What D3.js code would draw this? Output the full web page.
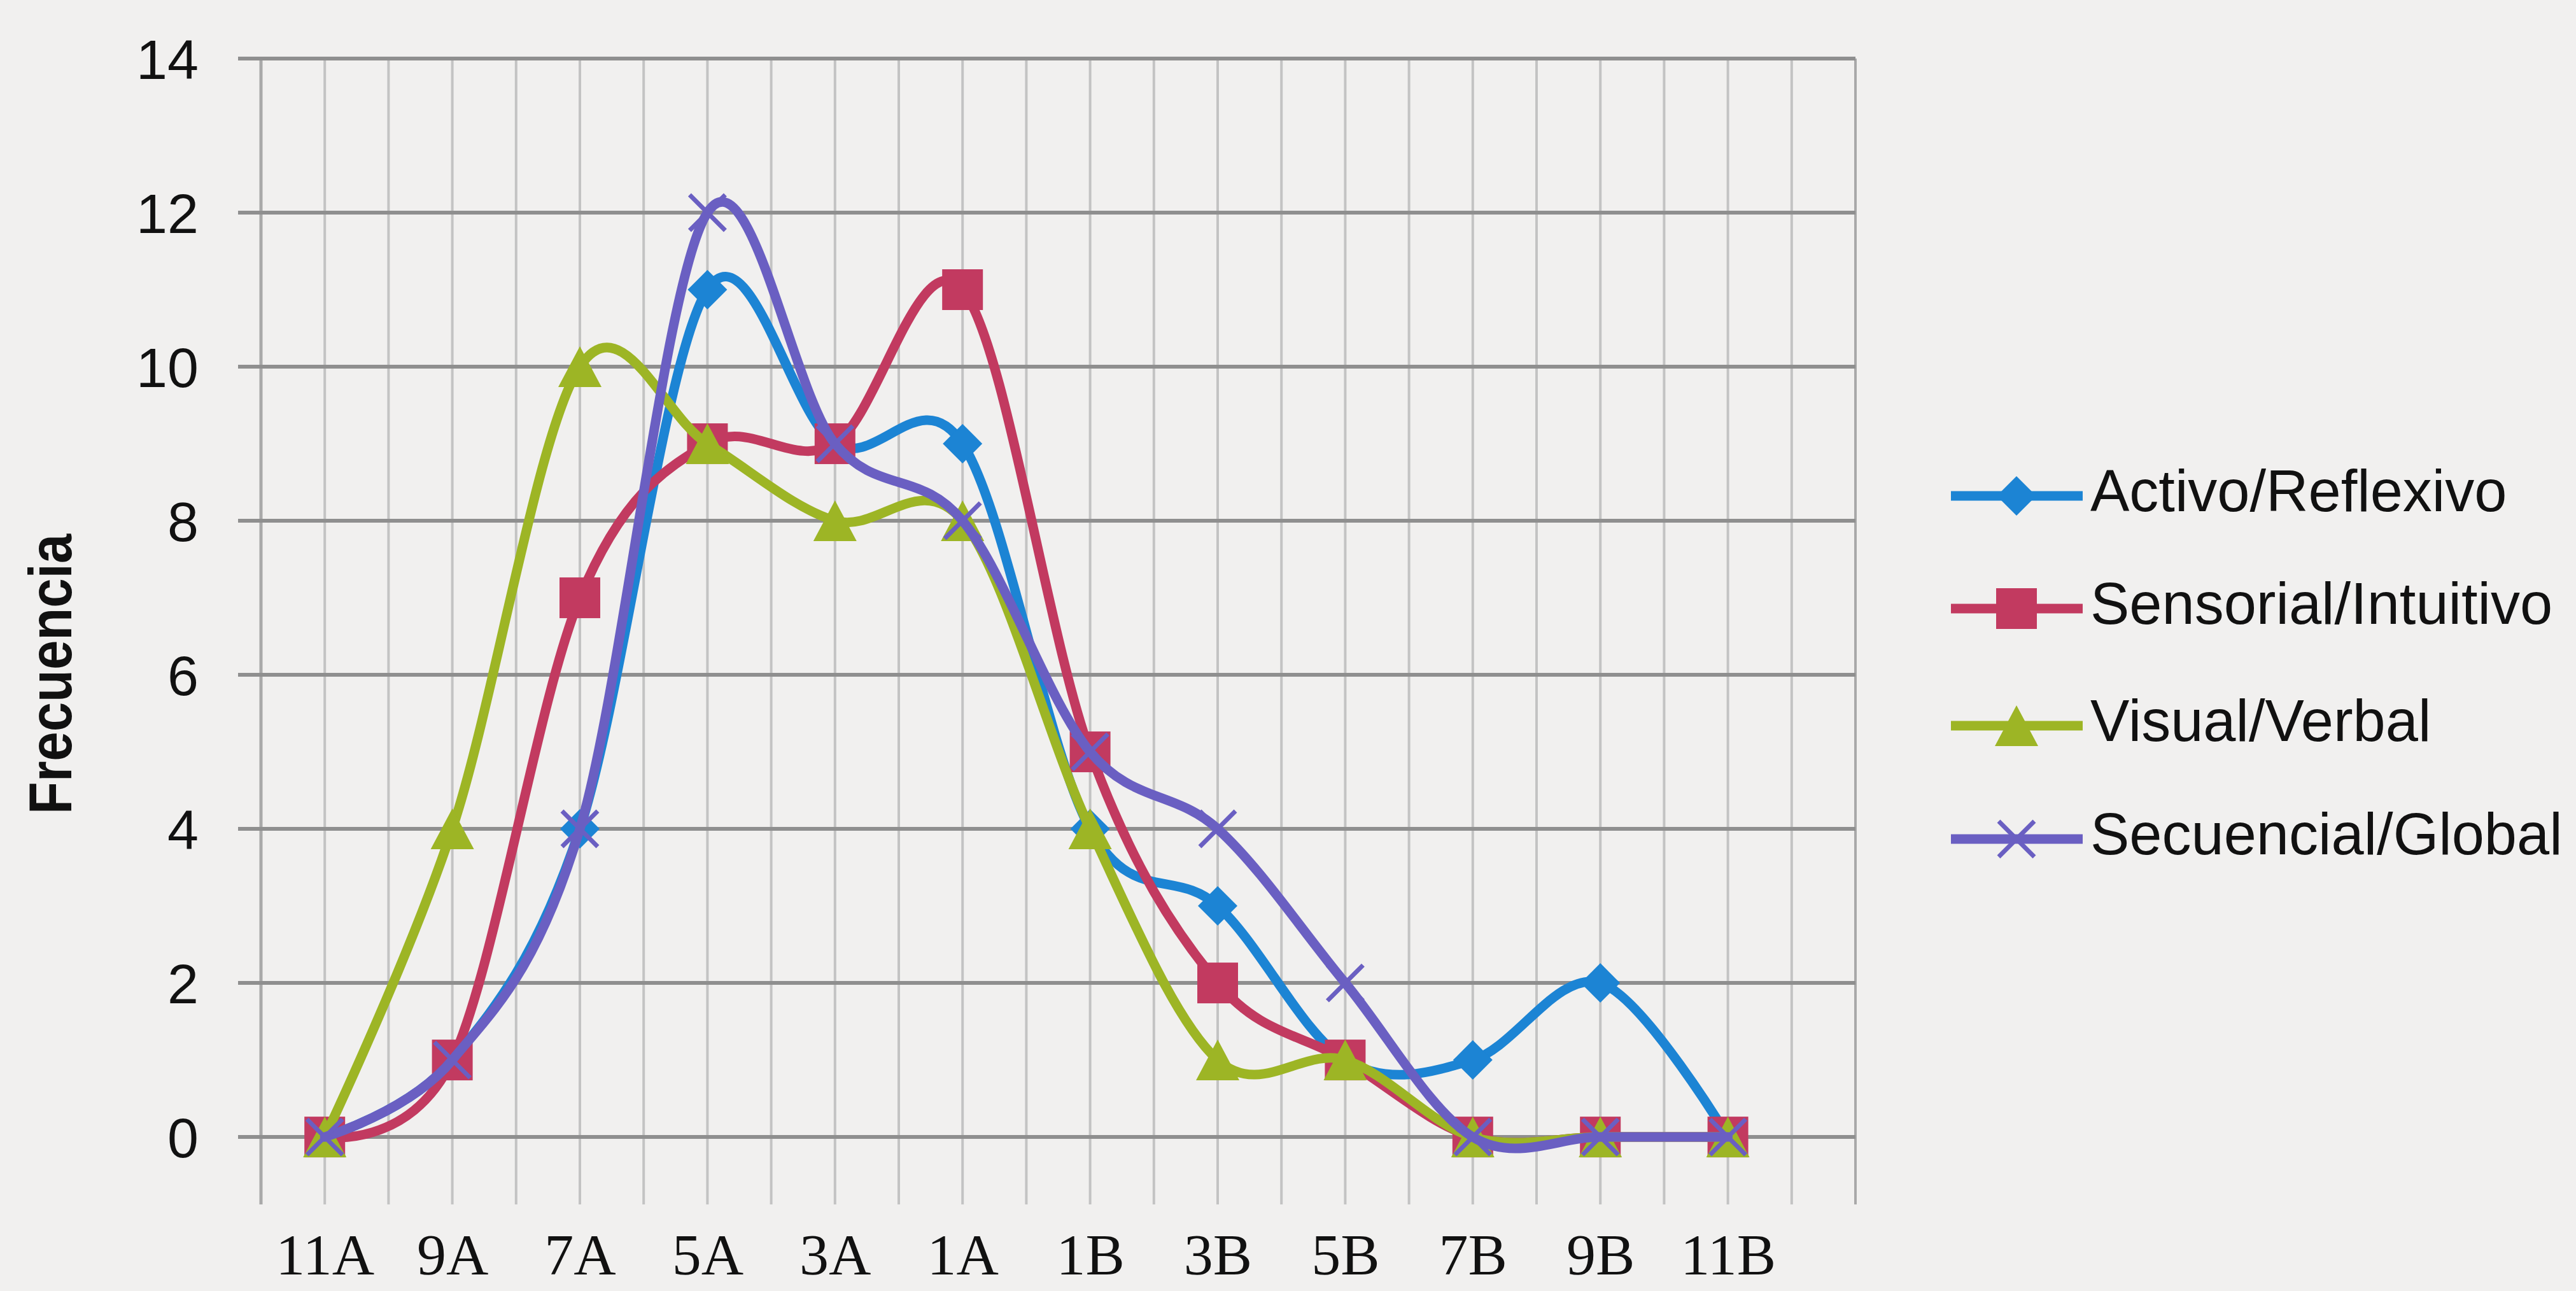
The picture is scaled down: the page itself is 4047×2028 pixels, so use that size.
<!DOCTYPE html>
<html>
<head>
<meta charset="utf-8">
<script src="https://cdn.jsdelivr.net/npm/d3@7"></script>
<style>
  html, body { margin: 0; padding: 0; background: #f1f0ef; }
  svg { display: block; }
</style>
</head>
<body>
<script>
// ---------- data ----------
const categories = ["11A","9A","7A","5A","3A","1A","1B","3B","5B","7B","9B","11B"];
const activoReflexivo     = [0, 1, 4, 11, 9, 9, 4, 3, 1, 1, 2, 0];
const sensorialIntuitivo  = [0, 1, 7, 9, 9, 11, 5, 2, 1, 0, 0, 0];
const visualVerbal        = [0, 4, 10, 9, 8, 8, 4, 1, 1, 0, 0, 0];
const secuencialGlobal    = [0, 1, 4, 12, 9, 8, 5, 4, 2, 0, 0, 0];
const seriesNames = ["Activo/Reflexivo", "Sensorial/Intuitivo", "Visual/Verbal", "Secuencial/Global"];
const yTicks = [0, 2, 4, 6, 8, 10, 12, 14];
const yTitle = "Frecuencia";

// ---------- styles ----------
const colors  = ["#1c84d4", "#c23a60", "#9db525", "#6a5fc2"];
const markers = ["diamond", "square", "triangle", "x"];
const W = 4047, H = 2028;
const plot = { left: 410, right: 2915, top: 92, bottom: 1892 };

const svg = d3.select("body").append("svg")
  .attr("width", W).attr("height", H)
  .attr("viewBox", `0 0 ${W} ${H}`);

svg.append("rect").attr("width", W).attr("height", H).attr("fill", "#f1f0ef");

// x: category index, with half-step grid
const x = d3.scaleLinear().domain([-0.5, 12]).range([plot.left, plot.right]);
const y = d3.scaleLinear().domain([-0.875, 14]).range([plot.bottom, plot.top]);

// vertical gridlines (every half category)
const vGrid = d3.range(-0.5, 12.001, 0.5);
svg.append("g").selectAll("line").data(vGrid).join("line")
  .attr("x1", d => x(d)).attr("x2", d => x(d))
  .attr("y1", y(14)).attr("y2", plot.bottom)
  .attr("stroke", (d, i) => (i === 0 || i === vGrid.length - 1) ? "#a9a9a9" : "#c3c3c3")
  .attr("stroke-width", (d, i) => (i === 0) ? 5 : 4);

// horizontal gridlines (with small tick extension on the left)
svg.append("g").selectAll("line").data(yTicks).join("line")
  .attr("x1", plot.left - 36).attr("x2", plot.right)
  .attr("y1", d => y(d)).attr("y2", d => y(d))
  .attr("stroke", "#8f8f8f")
  .attr("stroke-width", 6);

// y axis labels
const yAxis = d3.axisLeft(y).tickValues(yTicks).tickSize(0).tickPadding(98);
const gy = svg.append("g").attr("transform", `translate(${plot.left},0)`).call(yAxis);
gy.select(".domain").remove();
gy.selectAll("text")
  .attr("font-family", "'Liberation Sans', Arial, sans-serif")
  .attr("font-size", 88)
  .attr("fill", "#111")
  .attr("dy", "0.36em");

// x axis labels
const xAxis = d3.axisBottom(x).tickValues(d3.range(categories.length))
  .tickFormat(i => categories[i]).tickSize(0).tickPadding(45);
const gx = svg.append("g").attr("transform", `translate(0,${plot.bottom})`).call(xAxis);
gx.select(".domain").remove();
gx.selectAll("text")
  .attr("font-family", "'Liberation Serif', 'Times New Roman', serif")
  .attr("font-size", 92)
  .attr("fill", "#111");

// y title
svg.append("text")
  .attr("transform", `translate(112,1059) rotate(-90)`)
  .attr("text-anchor", "middle")
  .attr("font-family", "'Liberation Sans', Arial, sans-serif")
  .attr("font-weight", "bold")
  .attr("font-size", 94)
  .attr("textLength", 440)
  .attr("lengthAdjust", "spacingAndGlyphs")
  .attr("fill", "#111")
  .text(yTitle);

// ---------- marker drawing ----------
function drawMarker(g, type, cx, cy, color) {
  if (type === "diamond") {
    const r = 31;
    g.append("path").attr("d", `M${cx},${cy - r}L${cx + r},${cy}L${cx},${cy + r}L${cx - r},${cy}Z`)
      .attr("fill", color);
  } else if (type === "square") {
    const r = 32;
    g.append("rect").attr("x", cx - r).attr("y", cy - r).attr("width", 2 * r).attr("height", 2 * r)
      .attr("fill", color);
  } else if (type === "triangle") {
    const w = 34, h = 32;
    g.append("path").attr("d", `M${cx},${cy - h}L${cx + w},${cy + h}L${cx - w},${cy + h}Z`)
      .attr("fill", color);
  } else {
    const r = 28;
    g.append("path").attr("d", `M${cx - r},${cy - r}L${cx + r},${cy + r}M${cx + r},${cy - r}L${cx - r},${cy + r}`)
      .attr("stroke", color).attr("stroke-width", 7).attr("fill", "none");
  }
}

// ---------- series ----------
const allSeries = [activoReflexivo, sensorialIntuitivo, visualVerbal, secuencialGlobal];
const line = d3.line()
  .x((d, i) => x(i))
  .y(d => y(d))
  .curve(d3.curveCatmullRom.alpha(0));

allSeries.forEach((vals, s) => {
  const g = svg.append("g");
  g.append("path")
    .attr("d", line(vals))
    .attr("fill", "none")
    .attr("stroke", colors[s])
    .attr("stroke-width", 15)
    .attr("stroke-linejoin", "round")
    .attr("stroke-linecap", "round");
  vals.forEach((v, i) => drawMarker(g, markers[s], x(i), y(v), colors[s]));
});

// ---------- legend ----------
const legendRows = [779, 956, 1140, 1318];
const legend = svg.append("g");
seriesNames.forEach((name, s) => {
  const ly = legendRows[s];
  legend.append("line")
    .attr("x1", 3065).attr("x2", 3272).attr("y1", ly).attr("y2", ly)
    .attr("stroke", colors[s]).attr("stroke-width", 15);
  drawMarker(legend, markers[s], 3168, ly, colors[s]);
  legend.append("text")
    .attr("x", 3284).attr("y", ly + 24)
    .attr("font-family", "'Liberation Sans', Arial, sans-serif")
    .attr("font-size", 92)
    .attr("fill", "#111")
    .text(name);
});
</script>
</body>
</html>
